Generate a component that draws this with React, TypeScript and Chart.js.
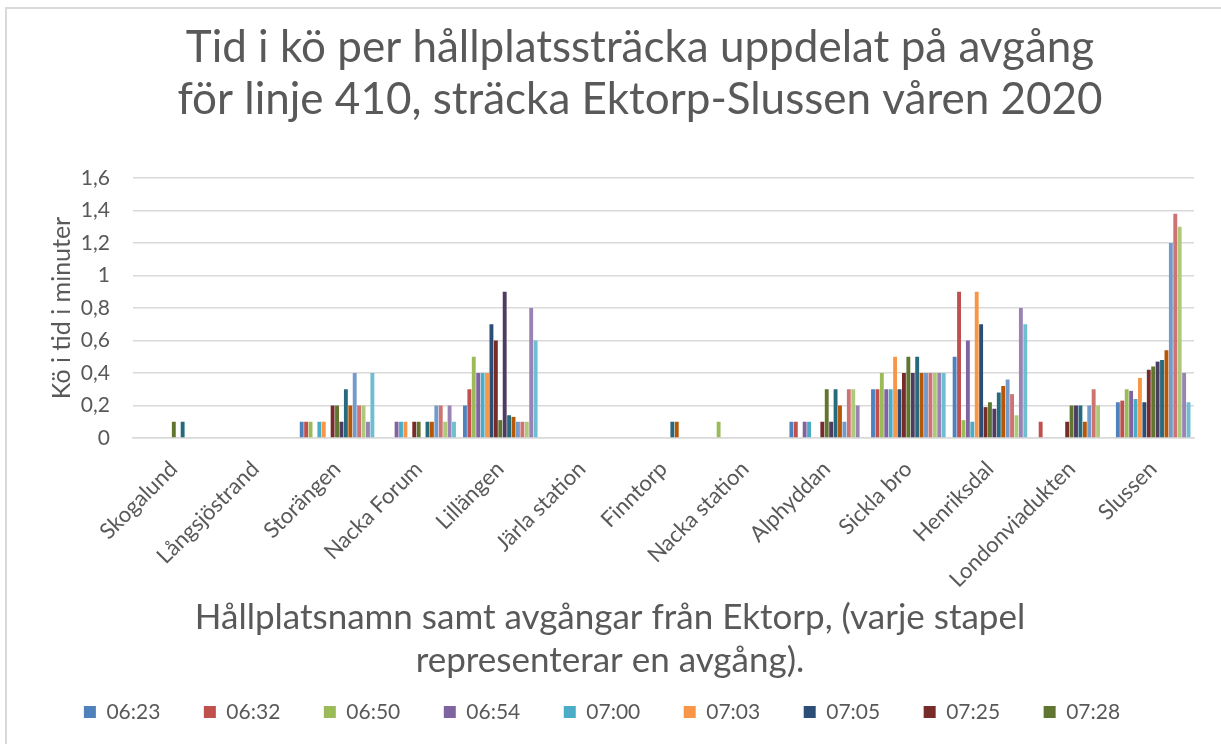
import React, { useEffect, useRef } from "react";
import { Chart, registerables } from "chart.js";

Chart.register(...registerables);

const categories = [
  "Skogalund", "Långsjöstrand", "Storängen", "Nacka Forum", "Lillängen", "Järla station",
  "Finntorp", "Nacka station", "Alphyddan", "Sickla bro", "Henriksdal", "Londonviadukten", "Slussen",
];

const seriesNames = [
  "06:23", "06:32", "06:50", "06:54", "07:00", "07:03", "07:05", "07:25", "07:28",
  "07:32", "07:38", "07:45", "07:52", "08:00", "08:08", "08:15", "08:25",
];

const s0623 = [0, 0, 0.1, 0, 0.2, 0, 0, 0, 0.1, 0.3, 0.5, 0, 0.22];
const s0632 = [0, 0, 0.1, 0, 0.3, 0, 0, 0, 0.1, 0.3, 0.9, 0.1, 0.23];
const s0650 = [0, 0, 0.1, 0, 0.5, 0, 0, 0.1, 0, 0.4, 0.11, 0, 0.3];
const s0654 = [0, 0, 0, 0.1, 0.4, 0, 0, 0, 0.1, 0.3, 0.6, 0, 0.29];
const s0700 = [0, 0, 0.1, 0.1, 0.4, 0, 0, 0, 0.1, 0.3, 0.1, 0, 0.24];
const s0703 = [0, 0, 0.1, 0.1, 0.4, 0, 0, 0, 0, 0.5, 0.9, 0, 0.37];
const s0705 = [0, 0, 0, 0, 0.7, 0, 0, 0, 0, 0.3, 0.7, 0, 0.22];
const s0725 = [0, 0, 0.2, 0.1, 0.6, 0, 0, 0, 0.1, 0.4, 0.19, 0.1, 0.42];
const s0728 = [0.1, 0, 0.2, 0.1, 0.11, 0, 0, 0, 0.3, 0.5, 0.22, 0.2, 0.44];
const s0732 = [0, 0, 0.1, 0, 0.9, 0, 0, 0, 0.1, 0.4, 0.18, 0.2, 0.47];
const s0738 = [0.1, 0, 0.3, 0.1, 0.14, 0, 0.1, 0, 0.3, 0.5, 0.28, 0.2, 0.48];
const s0745 = [0, 0, 0.2, 0.1, 0.13, 0, 0.1, 0, 0.2, 0.4, 0.32, 0.1, 0.54];
const s0752 = [0, 0, 0.4, 0.2, 0.1, 0, 0, 0, 0.1, 0.4, 0.36, 0.2, 1.2];
const s0800 = [0, 0, 0.2, 0.2, 0.1, 0, 0, 0, 0.3, 0.4, 0.27, 0.3, 1.38];
const s0808 = [0, 0, 0.2, 0.1, 0.1, 0, 0, 0, 0.3, 0.4, 0.14, 0.2, 1.3];
const s0815 = [0, 0, 0.1, 0.2, 0.8, 0, 0, 0, 0.2, 0.4, 0.8, 0, 0.4];
const s0825 = [0, 0, 0.4, 0.1, 0.6, 0, 0, 0, 0, 0.4, 0.7, 0, 0.22];

const seriesValues = [
  s0623, s0632, s0650, s0654, s0700, s0703, s0705, s0725, s0728,
  s0732, s0738, s0745, s0752, s0800, s0808, s0815, s0825,
];

const seriesColors = [
  "#4F81BD", "#C0504D", "#9BBB59", "#8064A2", "#4BACC6", "#F79646",
  "#2C4D75", "#772C2A", "#5F7530", "#4D3B62", "#276A7C", "#B65708",
  "#729ACA", "#CD7371", "#AFC97A", "#9983B5", "#6FBDD1",
];

const yTicks = ["0", "0,2", "0,4", "0,6", "0,8", "1", "1,2", "1,4", "1,6"];

const titleLines = [
  "Tid i kö per hållplatssträcka uppdelat på avgång",
  "för linje 410, sträcka Ektorp-Slussen våren 2020",
];
const xTitleLines = [
  "Hållplatsnamn samt avgångar från Ektorp, (varje stapel",
  "representerar en avgång).",
];
const yTitle = "Kö i tid i minuter";

const FONT = "Lato, 'Open Sans', sans-serif";
const GREY = "#595959";

// horizontal offsets of title, axis title and legend relative to Chart.js centering
const TITLE_SHIFT = 19.5;
const SUBTITLE_SHIFT = -10.5;
const LEGEND_SHIFT = -18.5;

const boxShift = {
  id: "boxShift",
  afterLayout(chart: any) {
    const t = chart.titleBlock;
    (chart.boxes || []).forEach((b: any) => {
      if (t && b === t) {
        b.left += TITLE_SHIFT;
        b.right += TITLE_SHIFT;
      } else if (t && b.constructor === t.constructor) {
        b.left += SUBTITLE_SHIFT;
        b.right += SUBTITLE_SHIFT;
      } else if (b === chart.legend) {
        b.left += LEGEND_SHIFT;
        b.right += LEGEND_SHIFT;
      }
    });
  },
};

export default function App() {
  const ref = useRef<HTMLCanvasElement | null>(null);

  useEffect(() => {
    if (!ref.current) return;
    const chart = new Chart(ref.current, {
      type: "bar",
      data: {
        labels: categories,
        datasets: seriesNames.map((name, i) => ({
          label: name,
          data: seriesValues[i],
          backgroundColor: seriesColors[i],
          borderWidth: 0,
          categoryPercentage: 0.92,
          barPercentage: 0.88,
        })),
      },
      options: {
        animation: false,
        responsive: true,
        maintainAspectRatio: false,
        layout: { padding: { left: 47, right: 27, top: 0, bottom: 11.5 } },
        plugins: {
          title: {
            display: true,
            text: titleLines,
            color: GREY,
            font: { family: FONT, size: 44, weight: "normal", lineHeight: 1.2 },
            padding: { top: 21, bottom: 51.4 },
          },
          subtitle: {
            display: true,
            position: "bottom",
            weight: 1500,
            text: xTitleLines,
            color: GREY,
            font: { family: FONT, size: 35, weight: "normal", lineHeight: 1.2286 },
            padding: { top: 1, bottom: -24.5 },
          },
          legend: {
            display: true,
            position: "bottom",
            weight: 3000,
            labels: {
              color: GREY,
              font: { family: FONT, size: 21 },
              boxWidth: 12,
              boxHeight: 12,
              padding: 43.5,
              filter: (item: any) => item.datasetIndex < 9,
            },
          } as any,
          tooltip: { enabled: false },
        },
        scales: {
          x: {
            grid: { display: false },
            border: { display: true, color: "#D9D9D9", width: 1.5 },
            ticks: {
              color: GREY,
              font: { family: FONT, size: 22 },
              minRotation: 45,
              maxRotation: 45,
              autoSkip: false,
              padding: 10,
            },
            afterFit: (scale: any) => {
              scale.height = 157.5;
            },
          },
          y: {
            min: 0,
            max: 1.6,
            border: { display: false },
            grid: { color: "#D9D9D9", lineWidth: 1.5, drawTicks: false },
            ticks: {
              stepSize: 0.2,
              autoSkip: false,
              color: GREY,
              font: { family: FONT, size: 21 },
              padding: 23,
              callback: (v: any) => yTicks[Math.round(Number(v) / 0.2)],
            },
            title: {
              display: true,
              text: yTitle,
              color: GREY,
              font: { family: FONT, size: 25, weight: "normal", lineHeight: 1.2 },
              padding: { top: 0, bottom: 0 },
            },
            afterFit: (scale: any) => {
              scale.width = 86;
            },
          },
        },
      },
      plugins: [boxShift],
    } as any);
    return () => chart.destroy();
  }, []);

  return (
    <div style={{ position: "fixed", left: 0, top: 0, width: 1221, height: 744, overflow: "hidden", background: "#fff" }}>
      <div
        style={{
          position: "absolute",
          left: 5,
          top: 7,
          width: 1260,
          height: 780,
          border: "2px solid #D9D9D9",
          boxSizing: "border-box",
        }}
      />
      <div style={{ position: "absolute", left: 0, top: 0, width: 1221, height: 744 }}>
        <canvas ref={ref} />
      </div>
    </div>
  );
}
